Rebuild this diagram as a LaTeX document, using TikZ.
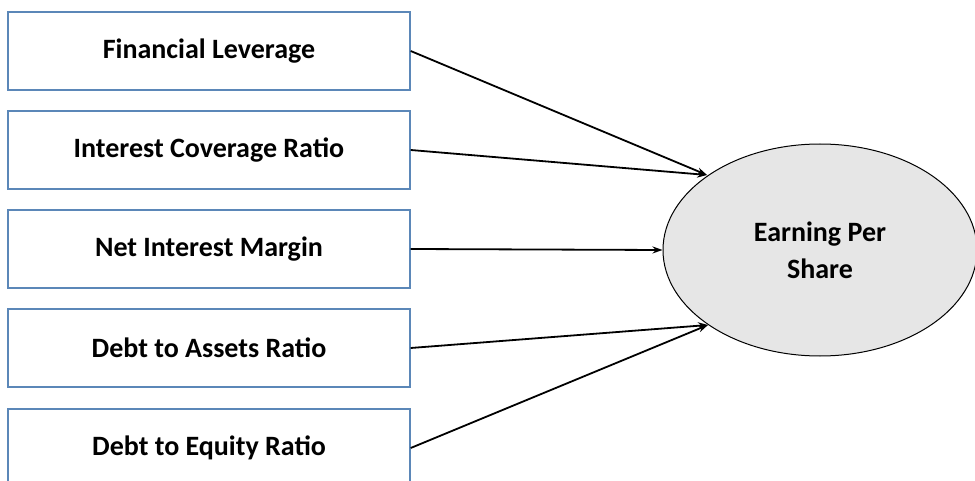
\documentclass[tikz,border=0pt]{standalone}
\usepackage{fontspec}
\setmainfont{Carlito}
\usetikzlibrary{arrows.meta,shapes.geometric}
\definecolor{boxblue}{HTML}{5B87B8}
\definecolor{ellgrey}{HTML}{E6E6E6}
\begin{document}
\begin{tikzpicture}[x=1pt,y=-1pt,
  factor/.style={draw=boxblue,line width=1.4pt,fill=white,minimum width=402pt,minimum height=78pt,inner sep=0pt,font=\fontsize{28}{33}\selectfont\bfseries},
  target/.style={ellipse,draw=black,line width=1pt,fill=ellgrey,minimum width=314pt,minimum height=212pt,inner sep=0pt,align=center,font=\fontsize{28}{37}\selectfont\bfseries},
  link/.style={line width=1.8pt,-{Stealth[length=10pt,width=7pt]}}]
\useasboundingbox (0,0) rectangle (975,481);
\begin{scope}
\clip (0,0) rectangle (975,481);
\node[factor] (f1) at (209,51) {Financial Leverage};
\node[factor] (f2) at (209,150) {Interest Coverage Ratio};
\node[factor] (f3) at (209,249) {Net Interest Margin};
\node[factor] (f4) at (209,348) {Debt to Assets Ratio};
\node[factor] (f5) at (209,448) {Debt to Equity Ratio};
\node[target] (eps) at (820,250) {Earning Per\\Share};
\end{scope}
\coordinate (up) at (707,175);
\coordinate (lo) at (708,325);
\draw[link] (f1.east) -- (up);
\draw[link] (f2.east) -- (up);
\draw[link] (f3.east) -- (eps.west);
\draw[link] (f4.east) -- (lo);
\draw[link] (f5.east) -- (lo);
\end{tikzpicture}
\end{document}
